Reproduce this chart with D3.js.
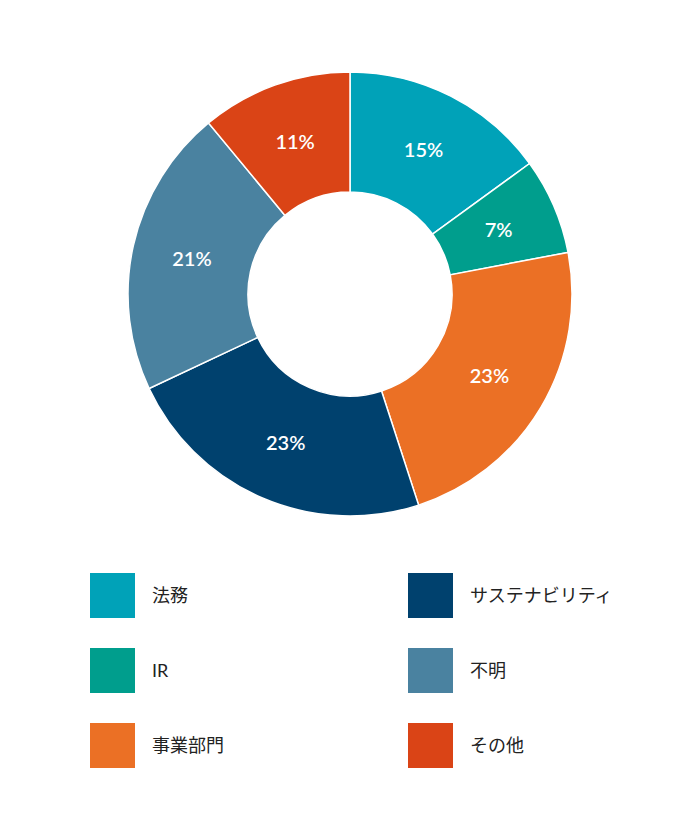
<!DOCTYPE html>
<html>
<head>
<meta charset="utf-8">
<script src="https://cdn.jsdelivr.net/npm/d3@7"></script>
<style>
  body { margin: 0; background: #fff; }
  svg { display: block; }
</style>
</head>
<body>
<div id="chart"></div>
<script>
// données du graphique
var categories = ["法務", "IR", "事業部門", "サステナビリティ", "不明", "その他"];
var valeurs = [15, 7, 23, 23, 21, 11];
var couleurs = ["#00a2b8", "#009e8d", "#eb7025", "#00416e", "#4a82a0", "#da4416"];

var width = 700,
    height = 833,
    cx = 350,
    cy = 294,
    rOut = 222,
    rIn = 102;

var svg = d3.select("#chart")
    .append("svg")
    .attr("width", width)
    .attr("height", height);

var color = d3.scaleOrdinal()
    .domain(categories)
    .range(couleurs);

var pie = d3.pie()
    .sort(null)
    .value(function(d) { return d.v; });

var data = categories.map(function(c, i) { return { cat: c, v: valeurs[i] }; });

var arc = d3.arc()
    .innerRadius(rIn)
    .outerRadius(rOut);

var g = svg.append("g")
    .attr("transform", "translate(" + cx + "," + cy + ")");

var parts = g.selectAll(".part")
    .data(pie(data))
    .enter().append("g")
    .attr("class", "part");

parts.append("path")
    .attr("d", arc)
    .attr("fill", function(d) { return color(d.data.cat); })
    .attr("stroke", "#fff")
    .attr("stroke-width", 1.5);

parts.append("text")
    .attr("transform", function(d) { return "translate(" + arc.centroid(d) + ")"; })
    .attr("text-anchor", "middle")
    .attr("dy", "0.35em")
    .attr("fill", "#fff")
    .style("font-family", "Lato, 'Noto Sans', sans-serif")
    .style("font-weight", "600")
    .style("font-size", "20px")
    .text(function(d) { return d.data.v + "%"; });

// légende en deux colonnes
var legende = svg.selectAll(".legend")
    .data(categories)
    .enter().append("g")
    .attr("class", "legend")
    .attr("transform", function(d, i) {
        var col = Math.floor(i / 3), row = i % 3;
        return "translate(" + (90 + col * 318) + "," + (573 + row * 75) + ")";
    });

legende.append("rect")
    .attr("width", 45)
    .attr("height", 45)
    .attr("fill", function(d) { return color(d); });

legende.append("text")
    .attr("x", 62)
    .attr("y", 23)
    .attr("dy", "0.35em")
    .attr("fill", "#222")
    .style("font-family", "Lato, 'Noto Sans CJK JP', sans-serif")
    .style("font-size", "18px")
    .text(function(d) { return d; });
</script>
</body>
</html>
